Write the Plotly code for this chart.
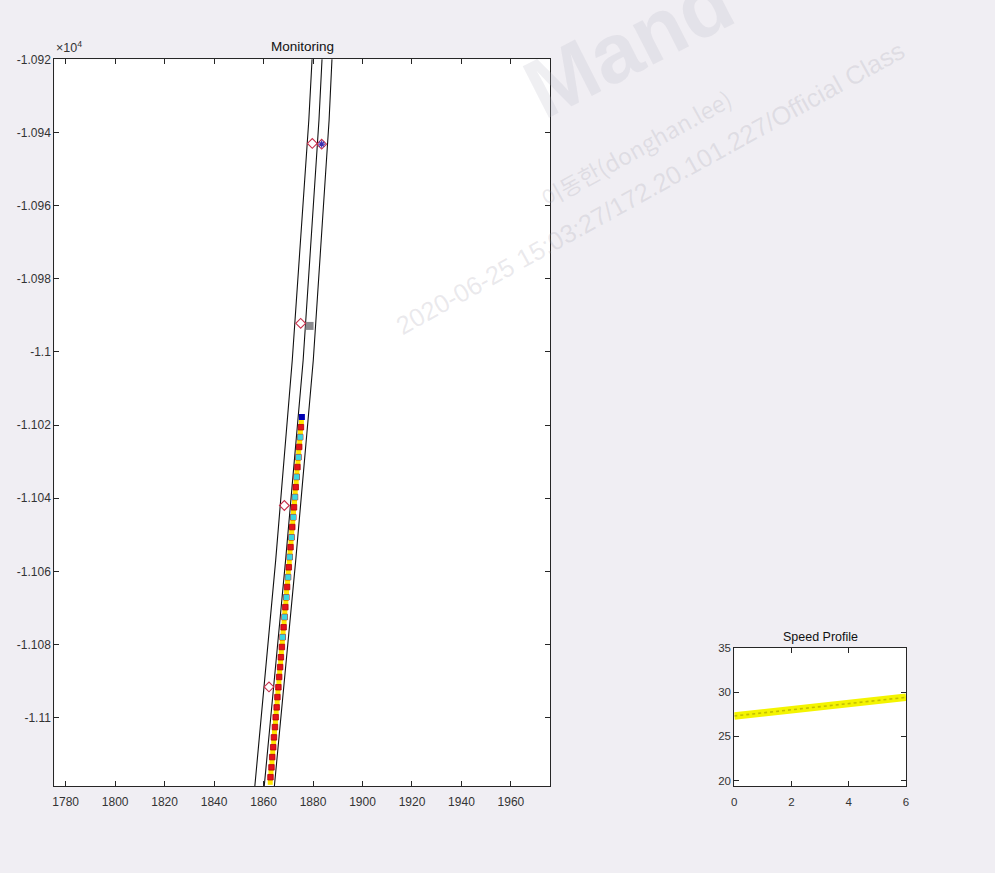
import plotly.graph_objects as go

W, H = 995, 873

# ---------------- data ----------------
# road boundary lines (y values shared, x for each line)
road_y = [-10915.0, -10936.6, -11002.3, -11057.0, -11120.0]
road_left_x = [1880.0, 1878.3, 1871.6, 1864.9, 1856.3]
road_mid_x = [1884.0, 1882.4, 1876.0, 1868.9, 1860.1]
road_right_x = [1888.0, 1886.5, 1880.1, 1873.0, 1864.2]

# ego path samples (red squares)
red_x = [1875.1, 1874.8, 1874.4, 1874.1, 1873.7, 1873.4, 1873.0, 1872.7, 1872.3, 1872.0,
         1871.6, 1871.3, 1870.9, 1870.6, 1870.2, 1869.9, 1869.5, 1869.2, 1868.8, 1868.5,
         1868.1, 1867.7, 1867.4, 1867.0, 1866.7, 1866.3, 1866.0, 1865.6, 1865.3, 1864.9,
         1864.6, 1864.2, 1863.9, 1863.5, 1863.2, 1862.8]
red_y = [-11020.6, -11023.3, -11026.0, -11028.8, -11031.5, -11034.2, -11037.0, -11039.7, -11042.5, -11045.2,
         -11047.9, -11050.7, -11053.4, -11056.1, -11058.9, -11061.6, -11064.3, -11067.1, -11069.8, -11072.5,
         -11075.3, -11078.0, -11080.7, -11083.5, -11086.2, -11088.9, -11091.7, -11094.4, -11097.2, -11099.9,
         -11102.6, -11105.4, -11108.1, -11110.8, -11113.6, -11116.3]

# yellow samples in between
yellow_x = [1875.3, 1874.9, 1874.6, 1874.2, 1873.9, 1873.5, 1873.2, 1872.8, 1872.5, 1872.1,
            1871.8, 1871.4, 1871.1, 1870.7, 1870.4, 1870.0, 1869.7, 1869.3, 1869.0, 1868.6,
            1868.3, 1867.9, 1867.6, 1867.2, 1866.9, 1866.5, 1866.2, 1865.8, 1865.5, 1865.1,
            1864.8, 1864.4, 1864.1, 1863.7, 1863.4, 1863.0, 1862.7]
yellow_y = [-11019.2, -11021.9, -11024.7, -11027.4, -11030.1, -11032.9, -11035.6, -11038.3, -11041.1, -11043.8,
            -11046.5, -11049.3, -11052.0, -11054.8, -11057.5, -11060.2, -11063.0, -11065.7, -11068.4, -11071.2,
            -11073.9, -11076.6, -11079.4, -11082.1, -11084.8, -11087.6, -11090.3, -11093.0, -11095.8, -11098.5,
            -11101.3, -11104.0, -11106.7, -11109.5, -11112.2, -11114.9, -11117.7]

# cyan samples (upper part of the path)
cyan_x = [1874.8, 1874.1, 1873.4, 1872.7, 1872.0, 1871.3, 1870.6, 1869.9, 1869.2, 1868.5, 1867.7]
cyan_y = [-11023.3, -11028.8, -11034.2, -11039.7, -11045.2, -11050.7, -11056.1, -11061.6, -11067.1, -11072.5, -11078.0]

# current ego position (blue)
blue_x = [1875.5]
blue_y = [-11017.8]

# surrounding objects
diamond_x = [1879.7, 1883.5, 1875.0, 1868.4, 1862.2]
diamond_y = [-10943.0, -10943.2, -10992.2, -11042.0, -11091.6]
star_x = [1883.5]
star_y = [-10943.2]
grey_x = [1878.6]
grey_y = [-10992.9]

# axis ticks
main_xticks = [1780, 1800, 1820, 1840, 1860, 1880, 1900, 1920, 1940, 1960]
main_yticks = [-10920, -10940, -10960, -10980, -11000, -11020, -11040, -11060, -11080, -11100]
main_yticklabels = ["-1.092", "-1.094", "-1.096", "-1.098", "-1.1", "-1.102", "-1.104", "-1.106", "-1.108", "-1.11"]

# speed profile
speed_t = [0.0, 0.5, 1.0, 1.5, 2.0, 2.5, 3.0, 3.5, 4.0, 4.5, 5.0, 5.5, 6.0]
speed_v = [27.3, 27.48, 27.65, 27.83, 28.0, 28.18, 28.35, 28.53, 28.7, 28.88, 29.05, 29.23, 29.4]
speed_xticks = [0, 2, 4, 6]
speed_yticks = [20, 25, 30, 35]

# ---------------- figure ----------------
FONT = "Liberation Sans, Arial, sans-serif"
AXC = "#262626"
TXC = "#333333"

fig = go.Figure()

for xs in (road_left_x, road_mid_x, road_right_x):
    fig.add_trace(go.Scatter(x=xs, y=road_y, mode="lines",
                             line=dict(color="#111111", width=1.1),
                             xaxis="x", yaxis="y", hoverinfo="skip"))

fig.add_trace(go.Scatter(x=yellow_x, y=yellow_y, mode="markers",
                         marker=dict(symbol="square", size=5, color="#ffe600", line=dict(width=0)),
                         xaxis="x", yaxis="y"))
fig.add_trace(go.Scatter(x=red_x, y=red_y, mode="markers",
                         marker=dict(symbol="square", size=5.5, color="#e5141a", line=dict(color="#b00000", width=0.8)),
                         xaxis="x", yaxis="y"))
fig.add_trace(go.Scatter(x=cyan_x, y=cyan_y, mode="markers",
                         marker=dict(symbol="square", size=5.5, color="#3cd6e0", line=dict(width=0)),
                         xaxis="x", yaxis="y"))
fig.add_trace(go.Scatter(x=blue_x, y=blue_y, mode="markers",
                         marker=dict(symbol="square", size=6, color="#0000b4", line=dict(width=0)),
                         xaxis="x", yaxis="y"))
fig.add_trace(go.Scatter(x=grey_x, y=grey_y, mode="markers",
                         marker=dict(symbol="square", size=8, color="#8a8a8e", line=dict(width=0)),
                         xaxis="x", yaxis="y"))
fig.add_trace(go.Scatter(x=diamond_x, y=diamond_y, mode="markers",
                         marker=dict(symbol="diamond-open", size=7.5, color="#c8304c", line=dict(width=1.1)),
                         xaxis="x", yaxis="y"))
fig.add_trace(go.Scatter(x=star_x, y=star_y, mode="markers",
                         marker=dict(symbol="asterisk-open", size=6, color="#3a2fb0", line=dict(width=1.2, color="#3a2fb0")),
                         xaxis="x", yaxis="y"))

# speed profile
fig.add_trace(go.Scatter(x=speed_t, y=speed_v, mode="lines",
                         line=dict(color="#f4f400", width=7.5),
                         xaxis="x2", yaxis="y2"))
fig.add_trace(go.Scatter(x=speed_t, y=speed_v, mode="lines",
                         line=dict(color="#c4be00", width=1.6, dash="dot"),
                         xaxis="x2", yaxis="y2"))

def fx(px):
    return px / W

def fy(py):
    return 1 - py / H

def axis_common(size):
    return dict(showgrid=False, zeroline=False, showline=True, linecolor=AXC, linewidth=1,
                mirror="allticks", ticks="inside", ticklen=5, tickcolor=AXC, tickwidth=1,
                tickfont=dict(family=FONT, size=size, color=TXC), automargin=False)

fig.update_layout(
    width=W, height=H,
    margin=dict(l=0, r=0, t=0, b=0),
    paper_bgcolor="#f0eef3",
    plot_bgcolor="#ffffff",
    showlegend=False,
    xaxis=dict(domain=[fx(54.3), fx(550)], range=[1775.4, 1975.8],
               tickmode="array", tickvals=main_xticks, anchor="y",
               ticklabelstandoff=5, **axis_common(12)),
    yaxis=dict(domain=[fy(786), fy(59.3)], range=[-11118.7, -10920],
               tickmode="array", tickvals=main_yticks, ticktext=main_yticklabels, anchor="x",
               **axis_common(12)),
    xaxis2=dict(domain=[fx(734.3), fx(906)], range=[0, 6],
                tickmode="array", tickvals=speed_xticks, anchor="y2",
                ticklabelstandoff=5, **axis_common(11.5)),
    yaxis2=dict(domain=[fy(786), fy(647.7)], range=[19.4, 35],
                tickmode="array", tickvals=speed_yticks, anchor="x2", **axis_common(11.5)),
)

annotations = [
    dict(text="Monitoring", x=fx(302), y=fy(46), xref="paper", yref="paper",
         showarrow=False, xanchor="center", yanchor="middle",
         font=dict(family=FONT, size=13.5, color="#111111")),
    dict(text="Speed Profile", x=fx(820), y=fy(637), xref="paper", yref="paper",
         showarrow=False, xanchor="center", yanchor="middle",
         font=dict(family=FONT, size=12.5, color="#111111")),
    dict(text="×10<sup>4</sup>", x=fx(54), y=fy(57), xref="paper", yref="paper",
         showarrow=False, xanchor="left", yanchor="bottom",
         font=dict(family=FONT, size=12.5, color=TXC)),
    # watermark
    dict(text="<b>Mand</b>", x=fx(628), y=fy(45), xref="paper", yref="paper",
         showarrow=False, xanchor="center", yanchor="middle", textangle=-27,
         font=dict(family=FONT, size=84, color="rgba(190,187,200,0.24)")),
    dict(text="2020-06-25 15:03:27/172.20.101.227/Official Class", x=fx(650), y=fy(188),
         xref="paper", yref="paper", showarrow=False, xanchor="center", yanchor="middle",
         textangle=-29, font=dict(family=FONT, size=25.5, color="rgba(160,158,170,0.22)")),
    dict(text="이동한(donghan.lee)", x=fx(636), y=fy(148),
         xref="paper", yref="paper", showarrow=False, xanchor="center", yanchor="middle",
         textangle=-29, font=dict(family="Noto Sans CJK KR, " + FONT, size=23, color="rgba(160,158,170,0.22)")),
]
fig.update_layout(annotations=annotations)

fig.write_html("out.html",
               config={"displayModeBar": False},
               post_script="document.body.style.margin='0';document.body.style.overflow='hidden';")
